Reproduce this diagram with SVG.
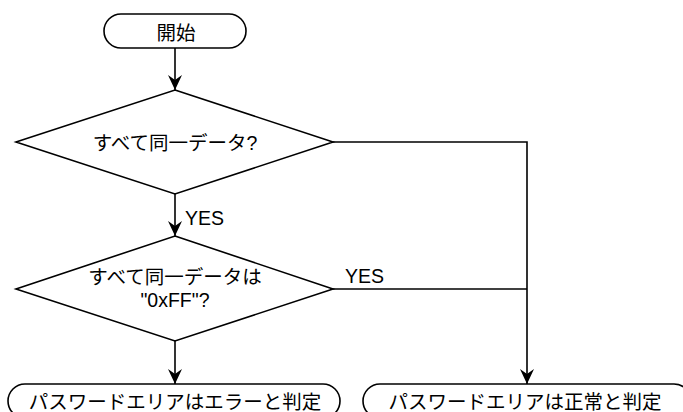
<svg xmlns="http://www.w3.org/2000/svg" width="683" height="412" viewBox="0 0 683 412">
<style>
.s{fill:#fff;stroke:#000;stroke-width:1.6}
.t{font-family:"Liberation Sans","Noto Sans CJK JP",sans-serif;font-size:19.5px;fill:#000}
.l{fill:none;stroke:#000;stroke-width:1.6}
</style>
<defs>
<marker id="a" markerWidth="15" markerHeight="14" refX="15" refY="7" orient="auto" markerUnits="userSpaceOnUse" viewBox="0 0 15 14">
<path d="M0,0 L15,7 L0,14 L5,7 Z" fill="#000"/>
</marker>
</defs>
<rect width="683" height="412" fill="#fff"/>
<g id="connectors">
<line class="l" x1="175" y1="48" x2="175" y2="90" marker-end="url(#a)"/>
<line class="l" x1="175" y1="194" x2="175" y2="236" marker-end="url(#a)"/>
<line class="l" x1="175" y1="341" x2="175" y2="384" marker-end="url(#a)"/>
<polyline class="l" points="333,142 527,142 527,384" marker-end="url(#a)"/>
<line class="l" x1="333" y1="289" x2="527" y2="289"/>
<text class="t" x="185" y="225">YES</text>
<text class="t" x="345" y="283">YES</text>
</g>
<g id="start">
<rect class="s" x="104" y="14" width="142" height="34" rx="17"/>
<text class="t" x="176" y="40" text-anchor="middle">開始</text>
</g>
<g id="d1">
<polygon class="s" points="175,90 333,142 175,194 16,142"/>
<text class="t" x="175" y="150" text-anchor="middle">すべて同一データ?</text>
</g>
<g id="d2">
<polygon class="s" points="175,236 333,289 175,341 16,289"/>
<text class="t" x="175" y="283.5" text-anchor="middle">すべて同一データは</text>
<text class="t" x="175" y="307" text-anchor="middle">"0xFF"?</text>
</g>
<g id="err">
<rect class="s" x="8" y="384" width="332" height="34" rx="17"/>
<text class="t" x="175" y="409" text-anchor="middle">パスワードエリアはエラーと判定</text>
</g>
<g id="ok">
<rect class="s" x="363" y="384" width="328" height="34" rx="17"/>
<text class="t" x="525" y="409" text-anchor="middle">パスワードエリアは正常と判定</text>
</g>
</svg>
